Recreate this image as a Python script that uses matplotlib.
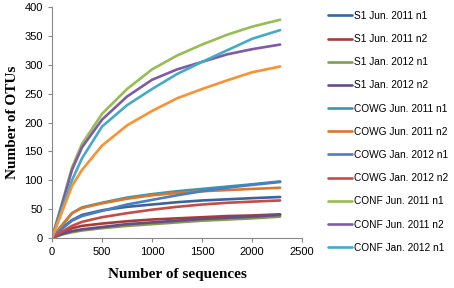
import numpy as np
import matplotlib.pyplot as plt

# rarefaction curves, values
seqs = [0, 100, 200, 300, 500, 750, 1000, 1250, 1500, 1750, 2000, 2280]

s1_jun11_n1 = [0, 18, 31, 40, 48, 54, 58, 62, 65, 67, 69, 71]
s1_jun11_n2 = [0, 10, 17, 21, 25, 29, 32, 34, 36, 38, 39, 41]
s1_jan12_n1 = [0, 6, 10, 13, 17, 21, 24, 27, 30, 32, 34, 37]
s1_jan12_n2 = [0, 7, 12, 15, 19, 24, 27, 30, 33, 35, 37, 40]
cowg_jun11_n1 = [0, 22, 43, 53, 61, 70, 76, 81, 85, 89, 93, 98]
cowg_jun11_n2 = [0, 22, 43, 52, 60, 68, 74, 78, 81, 83, 85, 87]
cowg_jan12_n1 = [0, 16, 30, 38, 47, 58, 66, 74, 81, 87, 92, 97]
cowg_jan12_n2 = [0, 11, 21, 28, 36, 43, 49, 54, 58, 61, 63, 65]
conf_jun11_n1 = [0, 60, 122, 163, 215, 258, 292, 316, 335, 352, 366, 378]
conf_jun11_n2 = [0, 58, 118, 157, 205, 245, 274, 292, 305, 318, 327, 335]
conf_jan12_n1 = [0, 50, 100, 138, 193, 230, 258, 284, 305, 325, 345, 360]
conf_jan12_n2 = [0, 45, 90, 118, 160, 195, 220, 242, 258, 273, 287, 297]

labels = ["S1 Jun. 2011 n1", "S1 Jun. 2011 n2", "S1 Jan. 2012 n1", "S1 Jan. 2012 n2",
          "COWG Jun. 2011 n1", "COWG Jun. 2011 n2", "COWG Jan. 2012 n1", "COWG Jan. 2012 n2",
          "CONF Jun. 2011 n1", "CONF Jun. 2011 n2", "CONF Jan. 2012 n1", "CONF Jan. 2012 n2"]
series = [s1_jun11_n1, s1_jun11_n2, s1_jan12_n1, s1_jan12_n2,
          cowg_jun11_n1, cowg_jun11_n2, cowg_jan12_n1, cowg_jan12_n2,
          conf_jun11_n1, conf_jun11_n2, conf_jan12_n1, conf_jan12_n2]
colors = ["#3A64A0", "#A63B38", "#7F9E45", "#664C8A", "#3A96AC", "#D9772B",
          "#4A7EC4", "#C84B48", "#98BD52", "#7D5BA8", "#45AAC8", "#F99232"]

fig = plt.figure(figsize=(4.54, 2.88), dpi=100)
ax = fig.add_axes([0.1145, 0.1736, 0.551, 0.802])

handles = []
for y, c, lab in zip(series, colors, labels):
    h, = ax.plot(seqs, y, color=c, lw=1.9, label=lab, solid_capstyle='round')
    handles.append(h)

ax.set_xlim(0, 2500)
ax.set_ylim(0, 400)
ax.set_xticks(np.arange(0, 2501, 500))
ax.set_yticks(np.arange(0, 401, 50))
for s in ['top', 'right']:
    ax.spines[s].set_visible(False)
for s in ['left', 'bottom']:
    ax.spines[s].set_color('#888888')
ax.tick_params(labelsize=8, colors='#888888', labelcolor='black', length=3, direction='out')
for t in ax.get_xticklabels() + ax.get_yticklabels():
    t.set_family('Liberation Sans')
ax.set_xlabel("Number of sequences", fontsize=11, fontweight='bold',
              family='Liberation Serif', labelpad=8)
ax.set_ylabel("Number of OTUs", fontsize=11, fontweight='bold',
              family='Liberation Serif', labelpad=4)

# legend only shows the first 11 entries (the last one is cut off)
fig.legend(handles[:11], labels[:11], loc='upper left', bbox_to_anchor=(0.722, 0.962),
           frameon=False, prop={'family': 'Liberation Sans', 'size': 7.3},
           labelspacing=1.3, handlelength=2.4,
           handletextpad=0.15, borderpad=0, borderaxespad=0)

plt.savefig("out.png", dpi=100)
